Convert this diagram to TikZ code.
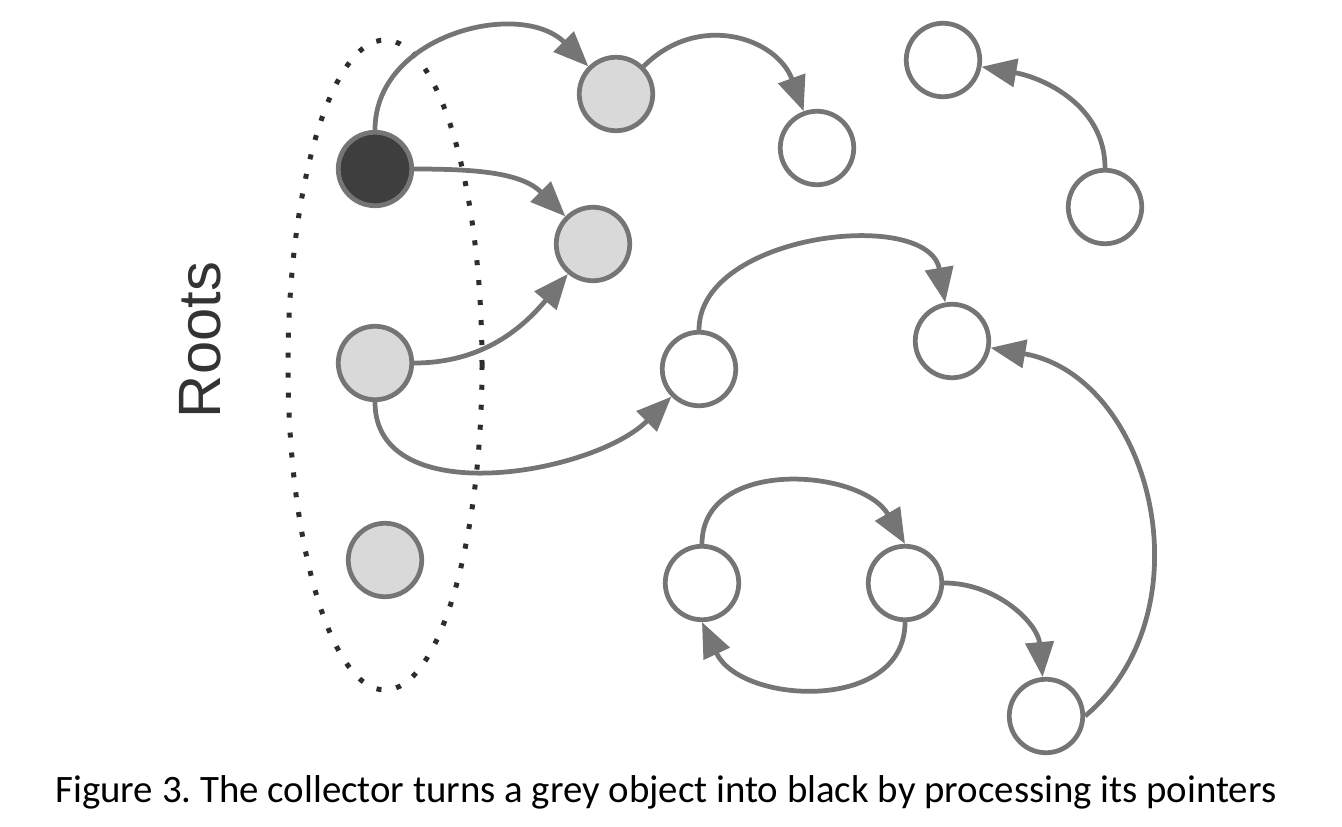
\documentclass[tikz,border=0pt]{standalone}
\usepackage{fontspec}
\setmainfont{Carlito}
\newfontfamily\rootsfont{Liberation Sans}
\usetikzlibrary{arrows.meta}
\definecolor{outline}{RGB}{117,117,117}
\definecolor{greyfill}{RGB}{217,217,217}
\definecolor{blackfill}{RGB}{62,62,62}
\definecolor{dotcolor}{RGB}{45,45,45}
\frenchspacing

\begin{document}
\begin{tikzpicture}[
    x=0.02cm, y=0.02cm,
    obj/.style={circle, draw=outline, line width=0.095cm, minimum size=1.47cm, inner sep=0pt, fill=white},
    greyobj/.style={obj, fill=greyfill},
    blackobj/.style={obj, fill=blackfill},
    ptr/.style={draw=outline, line width=0.095cm, -{Triangle[length=0.7cm, width=0.56cm]}},
    rootsarea/.style={draw=dotcolor, line width=0.1cm, dash pattern=on 0.1cm off 0.3cm},
    caption/.style={font=\fontsize{22.1}{26}\selectfont, anchor=base}
]
    \useasboundingbox (0,0) rectangle (1342,826);

    % Roots
    \draw[rootsarea] (385,461) ellipse [x radius=97, y radius=325];
    \node[rotate=90, font=\rootsfont\fontsize{34}{40}\selectfont, text=black!80] (roots) at (200,486) {Roots};

    % Objects
    \node[blackobj] (blk) at (375,657) {};
    \node[greyobj] (g1) at (616,732) {};
    \node[greyobj] (g2) at (593,582) {};
    \node[greyobj] (r2) at (375,463) {};
    \node[greyobj] (r3) at (385,266) {};
    \node[obj] (w1) at (817,678) {};
    \node[obj] (w2) at (943,766) {};
    \node[obj] (w3) at (1105,619) {};
    \node[obj] (w4) at (699,457) {};
    \node[obj] (w5) at (952,485) {};
    \node[obj] (w6) at (702,243) {};
    \node[obj] (w7) at (905,243) {};
    \node[obj] (w8) at (1046,110) {};

    % Pointers
    \draw[ptr] (blk) to[out=90, in=135, looseness=1.1] (g1);
    \draw[ptr] (blk) to[out=0, in=135] (g2);
    \draw[ptr] (g1) to[out=45, in=110, looseness=1.2] (w1);
    \draw[ptr] (r2) to[out=0, in=-130] (g2);
    \draw[ptr] (r2) to[out=-90, in=-135, looseness=0.95] (w4);
    \draw[ptr] (w4) to[out=90, in=100] (w5);
    \draw[ptr] (w3) to[out=90, in=-10] (w2);
    \draw[ptr] (w8.east) to[out=40, in=-10, looseness=1.1] (w5);
    \draw[ptr] (w6) to[out=90, in=120, looseness=1.1] (w7.north);
    \draw[ptr] (w7) to[out=-90, in=-65, looseness=1.15] (w6.south);
    \draw[ptr] (w7) to[out=0, in=95] (w8);

    % Caption
    \node[caption] (cap) at (666,24) {Figure 3. The collector turns a grey object into black by processing its pointers};
\end{tikzpicture}
\end{document}
